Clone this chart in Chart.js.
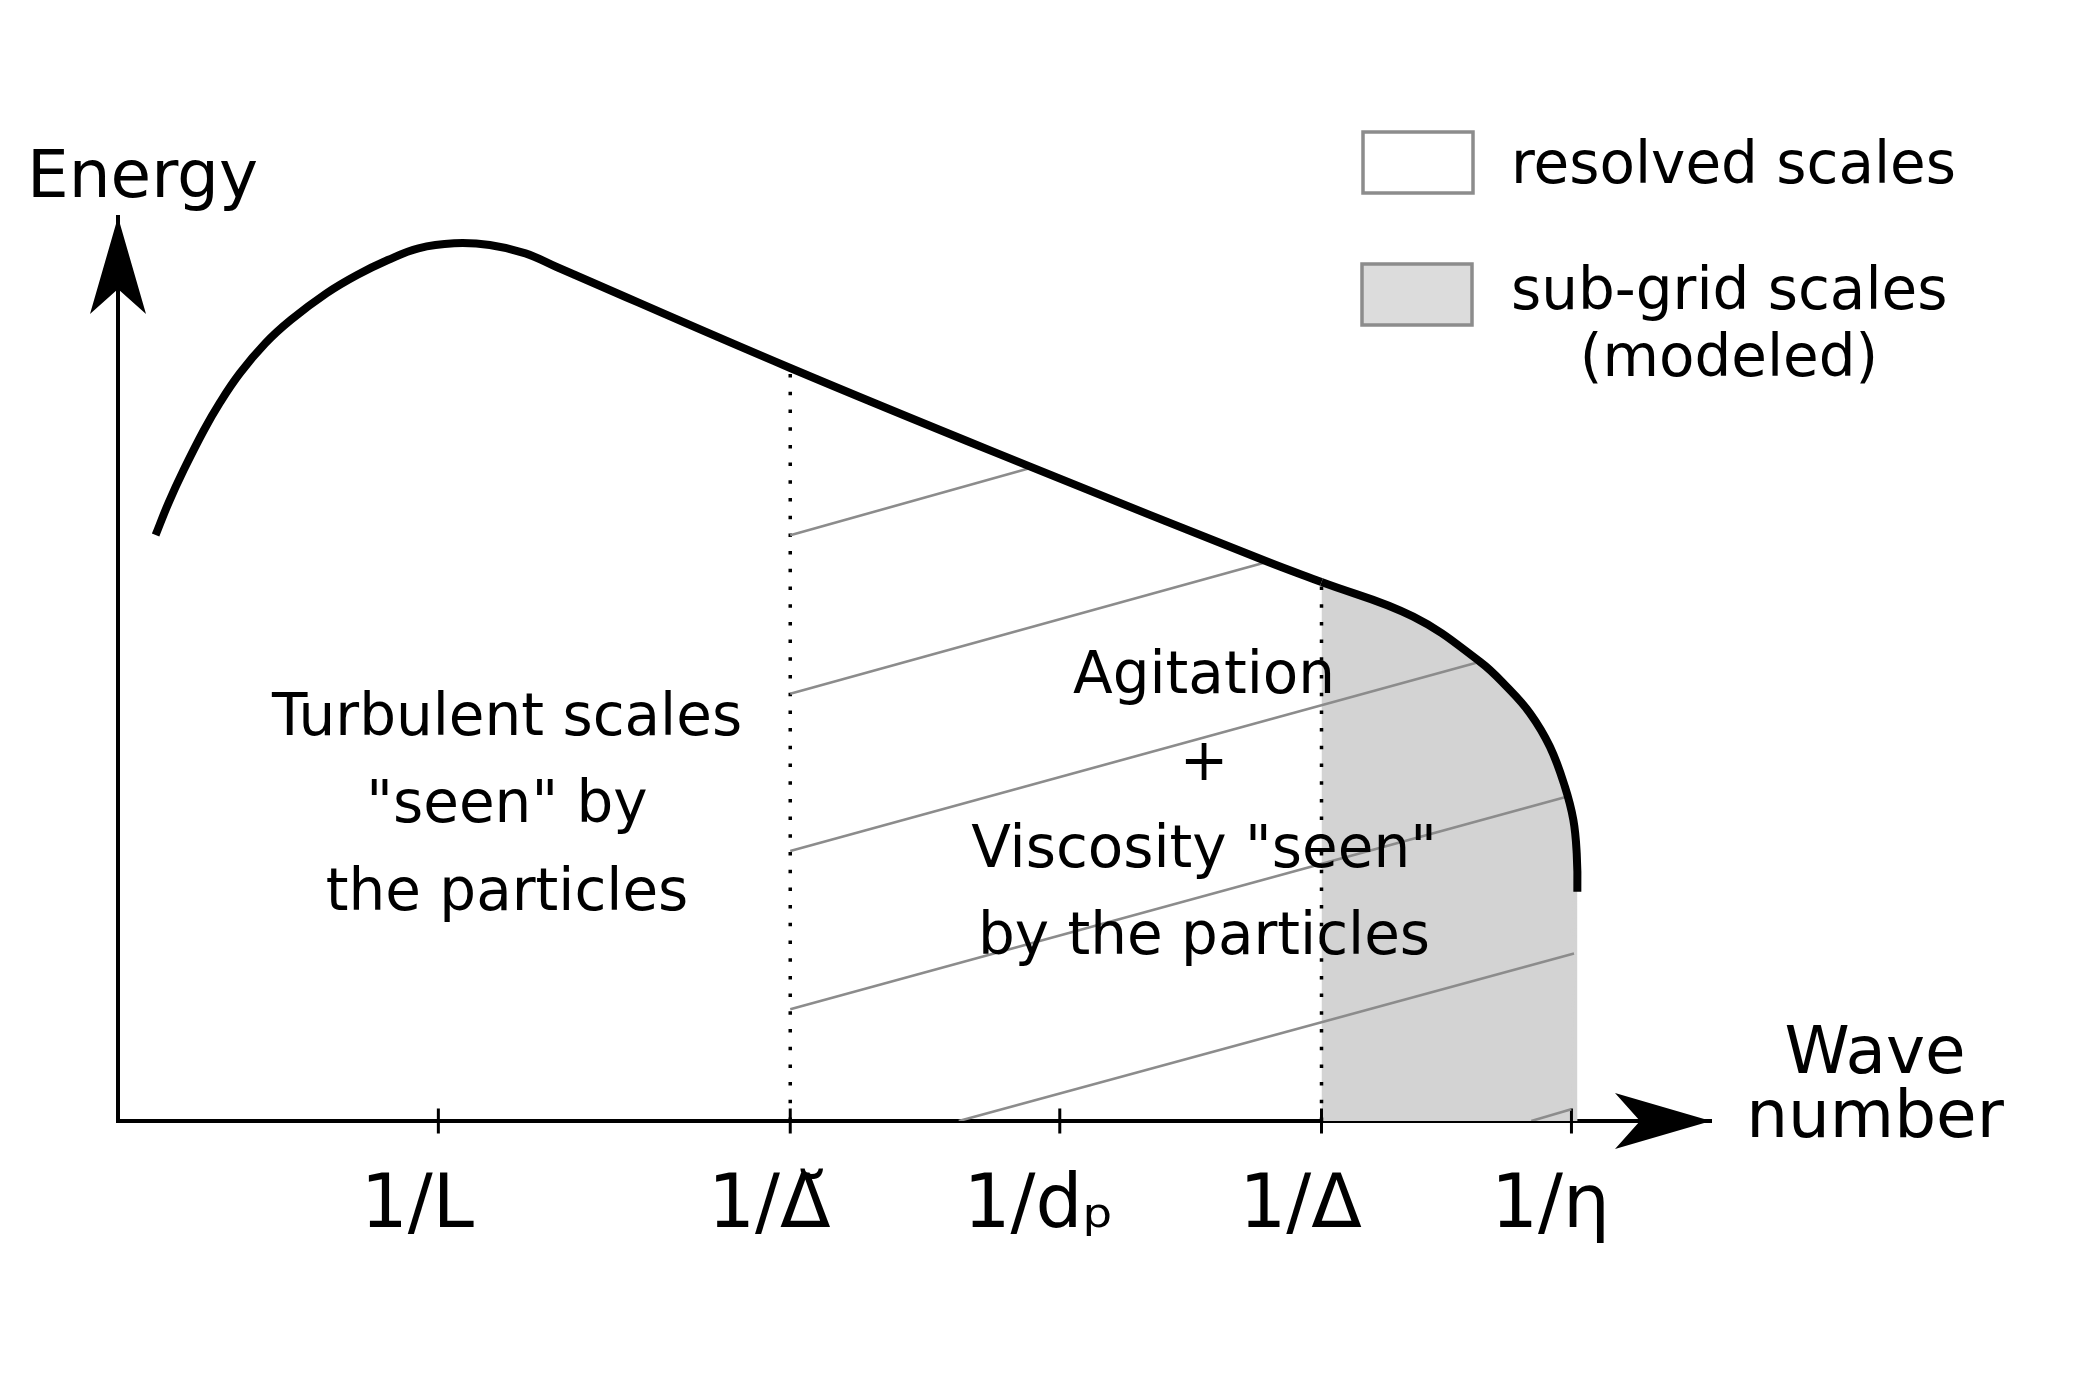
<!DOCTYPE html>
<html>
<head>
<meta charset="utf-8">
<script src="https://cdn.jsdelivr.net/npm/chart.js@4.4.1/dist/chart.umd.min.js"></script>
<style>
  html, body { margin: 0; padding: 0; background: #fff; }
</style>
</head>
<body>
<canvas id="myChart" width="2088" height="1391"></canvas>
<script>
// wave number axis runs 0..100, energy axis runs 0..100 (arbitrary units, schematic)
var tickValues = [20.11, 42.20, 59.12, 75.55, 91.24];
var tickLabels = ['1/L', '1/\u0394\u0306', '1/d\u209A', '1/\u0394', '1/\u03B7'];

// energy spectrum curve, last point closes the sub-grid area down to the axis
var spectrumX = [2.36, 3.16, 4.12, 5.40, 6.37, 7.65, 9.25, 10.85, 13.09, 15.01, 16.94, 18.86, 21.10, 23.34, 25.58, 27.50,
    42.20, 57.38, 72.17, 75.55, 81.31, 85.50, 87.18, 88.64, 89.89, 90.83, 91.36, 91.57, 91.61, 91.21];
var spectrumY = [64.82, 68.33, 72.01, 76.44, 79.39, 82.71, 86.03, 88.61, 91.56, 93.58, 95.24, 96.54, 97.09, 96.90, 95.98, 94.50,
    83.30, 72.30, 61.86, 59.62, 55.79, 50.81, 48.04, 45.10, 41.40, 36.98, 33.30, 29.61, 25.36, 0];
var subgridStart = 75.55;

// dotted cut-off lines (filter width and grid width)
var cutoffX = [42.20, 75.55];
var cutoffTop = [83.30, 59.62];

// hatching of the particle-filtered range
var hatchX0 = [42.20, 42.20, 42.20, 42.20, 52.78, 88.72];
var hatchY0 = [64.79, 47.26, 29.88, 12.35, 0, 0];
var hatchX1 = [57.38, 72.17, 85.50, 90.94, 91.40, 91.23];
var hatchY1 = [72.30, 61.86, 50.81, 35.87, 18.54, 1.31];

var legendLabels = ['resolved scales', 'sub-grid scales'];
var legendNote = '(modeled)';
var leftText = ['Turbulent scales', '"seen" by', 'the particles'];
var midText = ['Agitation', '+', 'Viscosity "seen"', 'by the particles'];

Chart.defaults.font.family = '"DejaVu Sans"';
Chart.defaults.color = '#000';

function pts(xs, ys) {
    var out = [];
    for (let i = 0; i < xs.length; i++) {
        out.push({ x: xs[i], y: ys[i] });
    }
    return out;
}

var lastIdx = spectrumX.length - 1;
var datasets = [];

datasets.push({
    label: 'spectrum',
    data: pts(spectrumX, spectrumY),
    borderColor: '#000',
    borderWidth: 8,
    pointRadius: 0,
    tension: 0.4,
    fill: 'origin',
    backgroundColor: 'rgba(0,0,0,0)',
    segment: {
        backgroundColor: ctx => ctx.p0.parsed.x >= subgridStart - 0.001 ? '#d3d3d3' : 'rgba(0,0,0,0)',
        borderColor: ctx => ctx.p1DataIndex === lastIdx ? 'rgba(0,0,0,0)' : '#000'
    }
});

for (let j = 0; j < hatchX0.length; j++) {
    datasets.push({
        label: 'hatch' + j,
        data: [{ x: hatchX0[j], y: hatchY0[j] }, { x: hatchX1[j], y: hatchY1[j] }],
        borderColor: '#8c8c8c',
        borderWidth: 2.6,
        pointRadius: 0,
        tension: 0,
        fill: false
    });
}

for (let j = 0; j < cutoffX.length; j++) {
    datasets.push({
        label: 'cutoff' + j,
        data: [{ x: cutoffX[j], y: 0 }, { x: cutoffX[j], y: cutoffTop[j] }],
        borderColor: '#000',
        borderWidth: 3.5,
        borderDash: [3.5, 14.2],
        borderCapStyle: 'butt',
        pointRadius: 0,
        fill: false
    });
}

datasets.push({
    label: 'ticks',
    data: tickValues.map(v => ({ x: v, y: 0 })),
    showLine: false,
    pointStyle: 'line',
    pointRadius: 12.5,
    pointRotation: 90,
    pointBorderColor: '#000',
    pointBorderWidth: 3,
    clip: false
});

const decor = {
    id: 'decor',
    afterDatasetsDraw(chart) {
        const ctx = chart.ctx;
        const xs = chart.scales.x, ys = chart.scales.y;
        const x0 = xs.getPixelForValue(0), y0 = ys.getPixelForValue(0);
        const xEnd = xs.getPixelForValue(100), yEnd = ys.getPixelForValue(100);
        ctx.save();
        ctx.fillStyle = '#000';

        // arrow heads
        ctx.beginPath();
        ctx.moveTo(x0, yEnd);
        ctx.lineTo(x0 - 28, yEnd + 97);
        ctx.lineTo(x0, yEnd + 72);
        ctx.lineTo(x0 + 28, yEnd + 97);
        ctx.closePath();
        ctx.fill();

        ctx.beginPath();
        ctx.moveTo(xEnd, y0);
        ctx.lineTo(xEnd - 96, y0 - 28);
        ctx.lineTo(xEnd - 71, y0);
        ctx.lineTo(xEnd - 96, y0 + 28);
        ctx.closePath();
        ctx.fill();

        // axis titles
        ctx.textBaseline = 'alphabetic';
        ctx.textAlign = 'left';
        ctx.font = '66px "DejaVu Sans"';
        ctx.fillText('Energy', 27, 197);
        ctx.textAlign = 'center';
        ctx.font = '66px "DejaVu Sans"';
        ctx.fillText('Wave', 1875, 1073);
        ctx.fillText('number', 1875, 1137);

        // legend
        ctx.lineWidth = 3.5;
        ctx.strokeStyle = '#8c8c8c';
        ctx.fillStyle = '#fff';
        ctx.fillRect(1363, 132, 110, 61);
        ctx.strokeRect(1363, 132, 110, 61);
        ctx.fillStyle = '#dcdcdc';
        ctx.fillRect(1362, 264, 110, 61);
        ctx.strokeRect(1362, 264, 110, 61);
        ctx.fillStyle = '#000';
        ctx.font = '58px "DejaVu Sans"';
        ctx.textAlign = 'left';
        ctx.fillText(legendLabels[0], 1511, 183);
        ctx.fillText(legendLabels[1], 1511, 309);
        ctx.textAlign = 'center';
        ctx.fillText(legendNote, 1729, 376);

        // region notes
        ctx.font = '58px "DejaVu Sans"';
        var lb = [735, 822, 910];
        leftText.forEach((t, i) => ctx.fillText(t, 507, lb[i]));
        var mb = [693, 780, 867, 954];
        midText.forEach((t, i) => ctx.fillText(t, 1204, mb[i]));
        ctx.restore();
    }
};

myChart = new Chart(document.getElementById('myChart'), {
    type: 'line',
    data: { datasets },
    options: {
        responsive: false,
        animation: false,
        devicePixelRatio: 1,
        layout: { padding: { top: 217, right: 377, bottom: 0, left: 0 } },
        plugins: {
            legend: { display: false },
            tooltip: { enabled: false },
            filler: { drawTime: 'beforeDatasetsDraw' }
        },
        scales: {
            x: {
                type: 'linear',
                min: 0,
                max: 100,
                afterFit: s => { s.height = 270; },
                afterBuildTicks: s => { s.ticks = tickValues.map(v => ({ value: v })); },
                grid: { drawOnChartArea: false, drawTicks: false },
                border: { display: true, color: '#000', width: 4 },
                ticks: {
                    autoSkip: false,
                    maxRotation: 0,
                    minRotation: 0,
                    padding: 42,
                    labelOffset: -21,
                    color: '#000',
                    font: { size: 74 },
                    callback: (v, i) => tickLabels[i]
                }
            },
            y: {
                type: 'linear',
                min: 0,
                max: 100,
                afterFit: s => { s.width = 118; },
                grid: { drawOnChartArea: false, drawTicks: false },
                border: { display: true, color: '#000', width: 4 },
                ticks: { display: false }
            }
        }
    },
    plugins: [decor]
});
</script>
</body>
</html>
